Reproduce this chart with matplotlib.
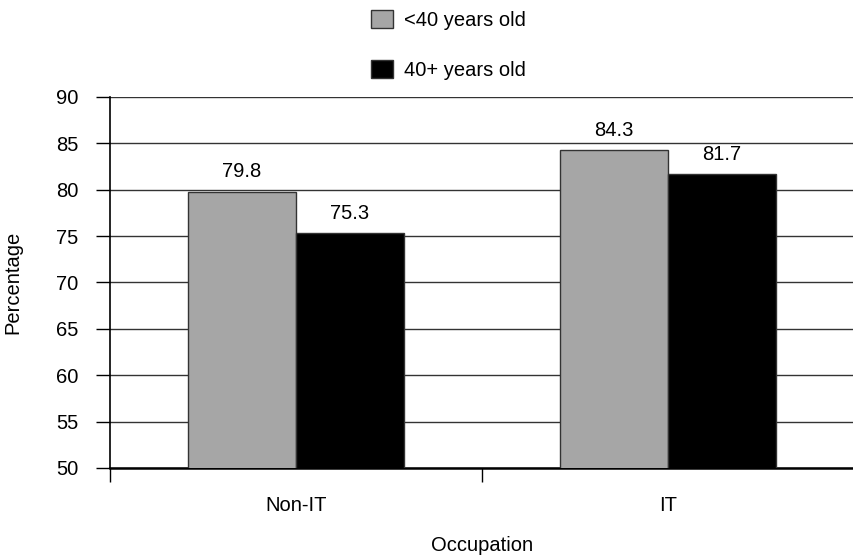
import numpy as np
import matplotlib.pyplot as plt

plt.rcParams['font.family'] = ['Liberation Sans', 'DejaVu Sans']

occupations = ['Non-IT', 'IT']
under40 = [79.8, 84.3]
over40 = [75.3, 81.7]
series_labels = ['<40 years old', '40+ years old']
yticks = [50, 55, 60, 65, 70, 75, 80, 85, 90]

fs = 14.5

fig = plt.figure(figsize=(8.54, 5.59), dpi=100)
ax = fig.add_axes([0.1288, 0.1628, 0.8712, 0.6637])

x = np.arange(len(occupations))
w = 0.29
b1 = ax.bar(x - w / 2, under40, w, color='#a6a6a6', edgecolor='#333333', linewidth=1, label=series_labels[0], zorder=3)
b2 = ax.bar(x + w / 2, over40, w, color='black', edgecolor='#333333', linewidth=1, label=series_labels[1], zorder=3)

for bars, vals in ((b1, under40), (b2, over40)):
    for rect, v in zip(bars, vals):
        ax.text(rect.get_x() + rect.get_width() / 2, v + 1.1, f'{v:.1f}',
                ha='center', va='bottom', fontsize=fs)

ax.set_ylim(50, 90)
ax.set_xlim(-0.5, 1.5)
ax.set_yticks(yticks)
ax.yaxis.grid(True, color='#333333', linewidth=1)
ax.set_axisbelow(True)

ax.set_xticks(x)
ax.set_xticklabels(occupations)
ax.set_xticks([-0.5, 0.5, 1.5], minor=True)
ax.tick_params(axis='x', which='major', length=0, pad=20, labelsize=fs)
ax.tick_params(axis='x', which='minor', length=10, width=1, direction='out')
ax.tick_params(axis='y', length=10, width=1, labelsize=fs, pad=13)

for s in ('top', 'right'):
    ax.spines[s].set_visible(False)
ax.spines['left'].set_linewidth(1.2)
ax.spines['bottom'].set_linewidth(1.8)

ax.set_ylabel('Percentage', fontsize=fs, labelpad=24)
ax.set_xlabel('Occupation', fontsize=fs, labelpad=15)

fig.legend(handles=[b1, b2], loc='upper left', bbox_to_anchor=(371 / 854, 1 - 10 / 559),
           frameon=False, fontsize=fs, labelspacing=1.5, handlelength=1.1,
           handleheight=1.0, handletextpad=0.55, borderpad=0, borderaxespad=0)

fig.savefig('out.png', dpi=100)
